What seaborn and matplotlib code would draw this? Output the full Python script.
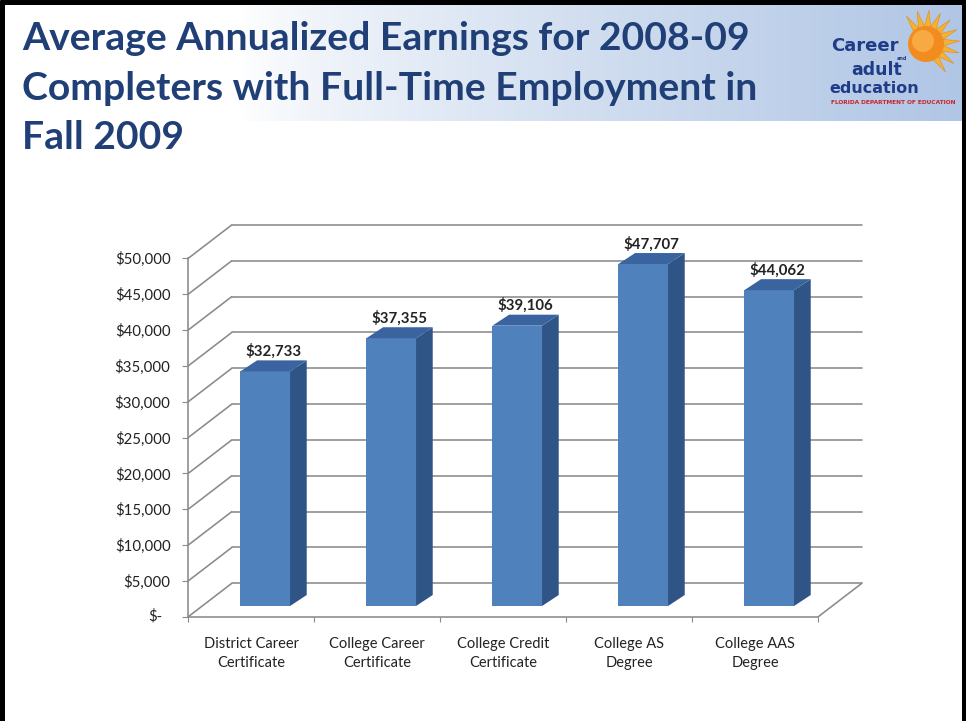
import numpy as np
import pandas as pd
import matplotlib
matplotlib.use("Agg")
import matplotlib.pyplot as plt
import seaborn as sns
from matplotlib.transforms import IdentityTransform, offset_copy
from matplotlib.lines import Line2D
from matplotlib.patches import Polygon, Circle

# ---------------- data ----------------
categories = ["District Career\nCertificate", "College Career\nCertificate",
              "College Credit\nCertificate", "College AS\nDegree", "College AAS\nDegree"]
earnings = [32733, 37355, 39106, 47707, 44062]
value_labels = ["$32,733", "$37,355", "$39,106", "$47,707", "$44,062"]
y_ticks = [0, 5000, 10000, 15000, 20000, 25000, 30000, 35000, 40000, 45000, 50000]
y_tick_labels = ["$-", "$5,000", "$10,000", "$15,000", "$20,000", "$25,000",
                 "$30,000", "$35,000", "$40,000", "$45,000", "$50,000"]
title_lines = ["Average Annualized Earnings for 2008-09",
               "Completers with Full-Time Employment in",
               "Fall 2009"]

# ---------------- style ----------------
sns.set_style("white")
plt.rcParams["font.family"] = ["Lato", "DejaVu Sans"]

W, H = 966, 721
fig = plt.figure(figsize=(W / 100, H / 100), dpi=100)

FRONT = "#4F81BD"
SIDE = "#2F5486"
TOP = "#3A64A0"
GRID = "#8A8A8A"
TITLE_C = "#1F3F76"
TXT = "#222222"

# ---------------- background / header ----------------
bg = fig.add_axes([0, 0, 1, 1], zorder=0)
n = 500
xs = np.linspace(0, W, n)
t = np.clip((xs - 240) / (W - 240), 0, 1) ** 0.75
white = np.array([1.0, 1.0, 1.0])
blue = np.array([176, 198, 229]) / 255.0
row = white[None, :] * (1 - t[:, None]) + blue[None, :] * t[:, None]
img = np.repeat(row[None, :, :], 2, axis=0)
bg.imshow(img, extent=(0, W, 121, 3), aspect="auto", interpolation="bilinear")
bg.set_xlim(0, W)
bg.set_ylim(H, 0)
bg.axis("off")

# black frame (left, top, right)
for xx, yy in [([2, 2], [0, H]), ([0, W], [1.5, 1.5]), ([963.5, 963.5], [0, H])]:
    bg.add_line(Line2D(xx, yy, color="black", lw=3.6, solid_capstyle="butt"))

# title
for line, base in zip(title_lines, [50, 100, 149]):
    bg.text(22, base, line, fontsize=28.2, fontweight="bold", color=TITLE_C,
            ha="left", va="baseline")

# logo
sun_c = (926, 44)
for ang in [-55, -35, -15, 5, 25, 45, 65, 85, 105, 125]:
    a = np.deg2rad(ang)
    ux, uy = np.cos(a), -np.sin(a)
    px, py = -uy, ux
    r0, r1, hw = 17, 34, 3.2
    pts = [(sun_c[0] + ux * r0 + px * hw, sun_c[1] + uy * r0 + py * hw),
           (sun_c[0] + ux * r1, sun_c[1] + uy * r1),
           (sun_c[0] + ux * r0 - px * hw, sun_c[1] + uy * r0 - py * hw)]
    bg.add_patch(Polygon(pts, closed=True, fc="#F6B12F", ec="#E08A1E", lw=0.4))
bg.add_patch(Circle(sun_c, 18, fc="#F28C1E", ec="none"))
bg.add_patch(Circle((sun_c[0] - 3, sun_c[1] - 3), 11, fc="#F8B24A", ec="none", alpha=0.8))
bg.text(831, 51, "Career", fontsize=13, fontweight="bold", color="#1F3C88",
        family="DejaVu Sans", ha="left", va="baseline")
bg.text(897, 59.5, "and", fontsize=3.5, fontweight="bold", color="#1F3C88",
        family="DejaVu Sans", ha="left", va="baseline")
bg.text(851, 75, "adult", fontsize=12.5, fontweight="bold", color="#1F3C88",
        family="DejaVu Sans", ha="left", va="baseline")
bg.text(829, 93, "education", fontsize=11.5, fontweight="bold", color="#1F3C88",
        family="DejaVu Sans", ha="left", va="baseline")
bg.text(831, 104, "FLORIDA DEPARTMENT OF EDUCATION", fontsize=4.2, fontweight="bold",
        color="#C8232C", family="DejaVu Sans", ha="left", va="baseline")

# ---------------- chart ----------------
ax = fig.add_axes([188.3 / W, (H - 616.7) / H, 630 / W, 358.4 / H], zorder=2)
ax.patch.set_alpha(0)
df = pd.DataFrame({"category": categories, "earnings": earnings})
sns.barplot(data=df, x="category", y="earnings", ax=ax, color=FRONT,
            saturation=1, width=0.394, linewidth=0, zorder=3)
ax.set_xlim(-0.5, 4.5)
ax.set_ylim(0, 50000)
ax.set_xlabel("")
ax.set_ylabel("")

WALL = (43.5, 33.4)       # depth of the 3D box in pixels
BF = (13.9, 10.7)         # bar front plane offset
SD = (16.7, 11.0)         # bar depth


def disp(x, y, dx=0.0, dy=0.0):
    p = ax.transData.transform((x, y))
    return (p[0] + dx, p[1] + dy)


def add_seg(p0, p1, z=0.5):
    ax.add_line(Line2D([p0[0], p1[0]], [p0[1], p1[1]], transform=IdentityTransform(),
                       color=GRID, lw=1.15, zorder=z, clip_on=False))


x0_lim, x1_lim = ax.get_xlim()
for v in y_ticks:
    # back wall gridline
    add_seg(disp(x0_lim, v, *WALL), disp(x1_lim, v, *WALL))
    # side wall diagonal
    add_seg(disp(x0_lim, v), disp(x0_lim, v, *WALL))
# floor right edge
add_seg(disp(x1_lim, 0), disp(x1_lim, 0, *WALL))

# bars: shift front faces into depth and add side/top faces
bar_tr = offset_copy(ax.transData, fig=fig, x=BF[0], y=BF[1], units="dots")
for i, p in enumerate(list(ax.patches)):
    bx, bw, bh = p.get_x(), p.get_width(), p.get_height()
    p.set_transform(bar_tr)
    p.set_clip_on(False)
    side = [disp(bx + bw, 0, *BF), disp(bx + bw, bh, *BF),
            disp(bx + bw, bh, BF[0] + SD[0], BF[1] + SD[1]),
            disp(bx + bw, 0, BF[0] + SD[0], BF[1] + SD[1])]
    top = [disp(bx, bh, *BF), disp(bx + bw, bh, *BF),
           disp(bx + bw, bh, BF[0] + SD[0], BF[1] + SD[1]),
           disp(bx, bh, BF[0] + SD[0], BF[1] + SD[1])]
    ax.add_patch(Polygon(side, closed=True, transform=IdentityTransform(),
                         fc=SIDE, ec="none", zorder=3, clip_on=False))
    ax.add_patch(Polygon(top, closed=True, transform=IdentityTransform(),
                         fc=TOP, ec="none", zorder=3, clip_on=False))
    ax.annotate(value_labels[i], xy=(bx + bw / 2, bh),
                xytext=(BF[0] + SD[0] / 2, BF[1] + SD[1] + 1.5),
                textcoords="offset pixels", ha="center", va="bottom",
                fontsize=10.8, fontweight="bold", color=TXT, annotation_clip=False)

# axes styling
for s in ["top", "right"]:
    ax.spines[s].set_visible(False)
for s in ["left", "bottom"]:
    ax.spines[s].set_color(GRID)
    ax.spines[s].set_linewidth(1.15)

ax.set_yticks(y_ticks)
ax.set_yticklabels([""] + y_tick_labels[1:])
ax.tick_params(axis="y", length=4.3, width=0.8, color=GRID, pad=8.5,
               labelsize=10.8, labelcolor=TXT, left=True)
ax.annotate(y_tick_labels[0], xy=(x0_lim, 0), xytext=(-26, 0),
            textcoords="offset pixels", ha="right", va="center",
            fontsize=10.8, color=TXT, annotation_clip=False)

ax.set_xticks(range(len(categories)))
ax.set_xticklabels(categories, linespacing=1.5)
ax.set_xticks(np.arange(x0_lim, x1_lim + 0.01, 1.0), minor=True)
ax.tick_params(axis="x", which="major", length=0, pad=14.5, labelsize=10.5,
               labelcolor=TXT, bottom=False)
ax.tick_params(axis="x", which="minor", length=3.6, width=0.8, color=GRID,
               bottom=True)

fig.savefig("out.png", dpi=100)
